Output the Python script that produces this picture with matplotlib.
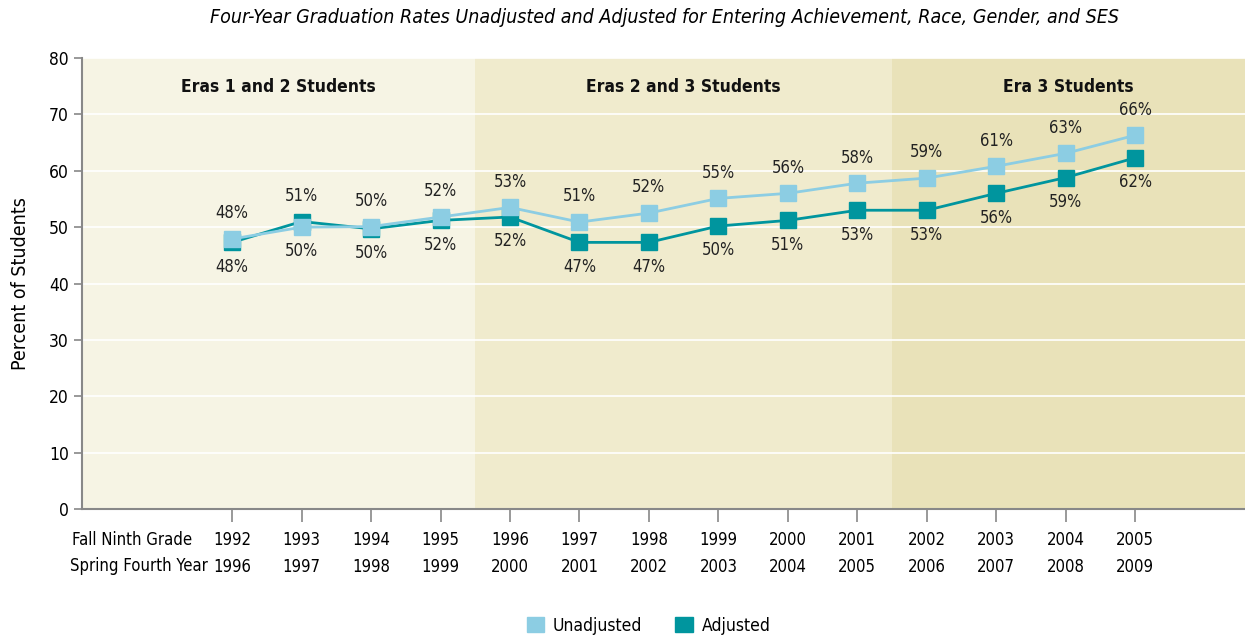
import matplotlib
matplotlib.use("Agg")
import matplotlib.pyplot as plt
import matplotlib.patches as mpatches

plt.rcParams['font.family'] = ['Liberation Sans Narrow', 'DejaVu Sans']
plt.rcParams['font.stretch'] = 'condensed'

fall = ['1992', '1993', '1994', '1995', '1996', '1997', '1998',
        '1999', '2000', '2001', '2002', '2003', '2004', '2005']
spring = ['1996', '1997', '1998', '1999', '2000', '2001', '2002',
          '2003', '2004', '2005', '2006', '2007', '2008', '2009']
unadj = [47.9, 50.0, 50.1, 51.8, 53.5, 50.9, 52.5, 55.1, 56.0, 57.8, 58.7, 60.8, 63.1, 66.3]
adj = [47.3, 51.0, 49.7, 51.2, 51.8, 47.3, 47.3, 50.2, 51.2, 53.0, 53.0, 56.0, 58.8, 62.3]
unadj_lbl = [48, 50, 50, 52, 53, 51, 52, 55, 56, 58, 59, 61, 63, 66]
adj_lbl = [48, 51, 50, 52, 52, 47, 47, 50, 51, 53, 53, 56, 59, 62]
eras = ['Eras 1 and 2 Students', 'Eras 2 and 3 Students', 'Era 3 Students']
era_colors = ['#f6f4e4', '#f0ebcd', '#e9e2b9']

c_unadj = '#8ccde3'
c_adj = '#00959e'

fig = plt.figure(figsize=(12.45, 6.37), dpi=100)
ax = fig.add_axes([0.0659, 0.2009, 0.9341, 0.708])

x = list(range(len(fall)))
xmin, xmax = -2.16, 14.58
bounds = [xmin, 3.5, 9.5, xmax]
for i in range(3):
    ax.axvspan(bounds[i], bounds[i + 1], color=era_colors[i], lw=0, zorder=0)
    ax.text((bounds[i] + bounds[i + 1]) / 2, 74.8, eras[i], ha='center', va='center',
            fontsize=12.5, fontweight='bold', color='#111111')

for v in range(10, 81, 10):
    ax.axhline(v, color='white', lw=1.2, zorder=1)

ax.plot(x, unadj, color=c_unadj, lw=2, marker='s', ms=11, zorder=3)
ax.plot(x, adj, color=c_adj, lw=2, marker='s', ms=11, zorder=2)

# upper value gets its label above, lower one below
for i in x:
    if adj[i] > unadj[i]:
        top, bot = adj_lbl[i], unadj_lbl[i]
    else:
        top, bot = unadj_lbl[i], adj_lbl[i]
    ax.annotate(f'{top}%', (i, max(adj[i], unadj[i])), xytext=(0, 12), textcoords='offset points',
                ha='center', va='bottom', fontsize=12, color='#222222')
    ax.annotate(f'{bot}%', (i, min(adj[i], unadj[i])), xytext=(0, -11), textcoords='offset points',
                ha='center', va='top', fontsize=12, color='#222222')

ax.set_xlim(xmin, xmax)
ax.set_ylim(0, 80)
ax.set_yticks(range(0, 81, 10))
ax.set_xticks(x)
ax.set_xticklabels([f'{a}\n{b}' for a, b in zip(fall, spring)], linespacing=1.6)
ax.tick_params(axis='x', length=9, width=1.2, color='#888888', pad=7, labelsize=12)
ax.tick_params(axis='y', length=6, width=1.2, color='#888888', labelsize=12.5)
for s in ['top', 'right']:
    ax.spines[s].set_visible(False)
for s in ['left', 'bottom']:
    ax.spines[s].set_color('#888888')
    ax.spines[s].set_linewidth(1.5)

fig.text(0.0578, 0.152, 'Fall Ninth Grade', fontsize=12, ha='left', va='center')
fig.text(0.0562, 0.111, 'Spring Fourth Year', fontsize=12, ha='left', va='center')

ax.set_ylabel('Percent of Students', fontsize=14, labelpad=14)
fig.text(0.534, 0.972, 'Four-Year Graduation Rates Unadjusted and Adjusted for Entering Achievement, Race, Gender, and SES',
         ha='center', va='center', fontsize=14, style='italic')

handles = [mpatches.Patch(color=c_unadj, label='Unadjusted'),
           mpatches.Patch(color=c_adj, label='Adjusted')]
fig.legend(handles=handles, loc='center', bbox_to_anchor=(0.521, 0.018), ncol=2, frameon=False,
           fontsize=12.5, handlelength=1.0, handleheight=1.0, columnspacing=1.9, handletextpad=0.5)

fig.savefig('out.png', dpi=100, facecolor='white')
